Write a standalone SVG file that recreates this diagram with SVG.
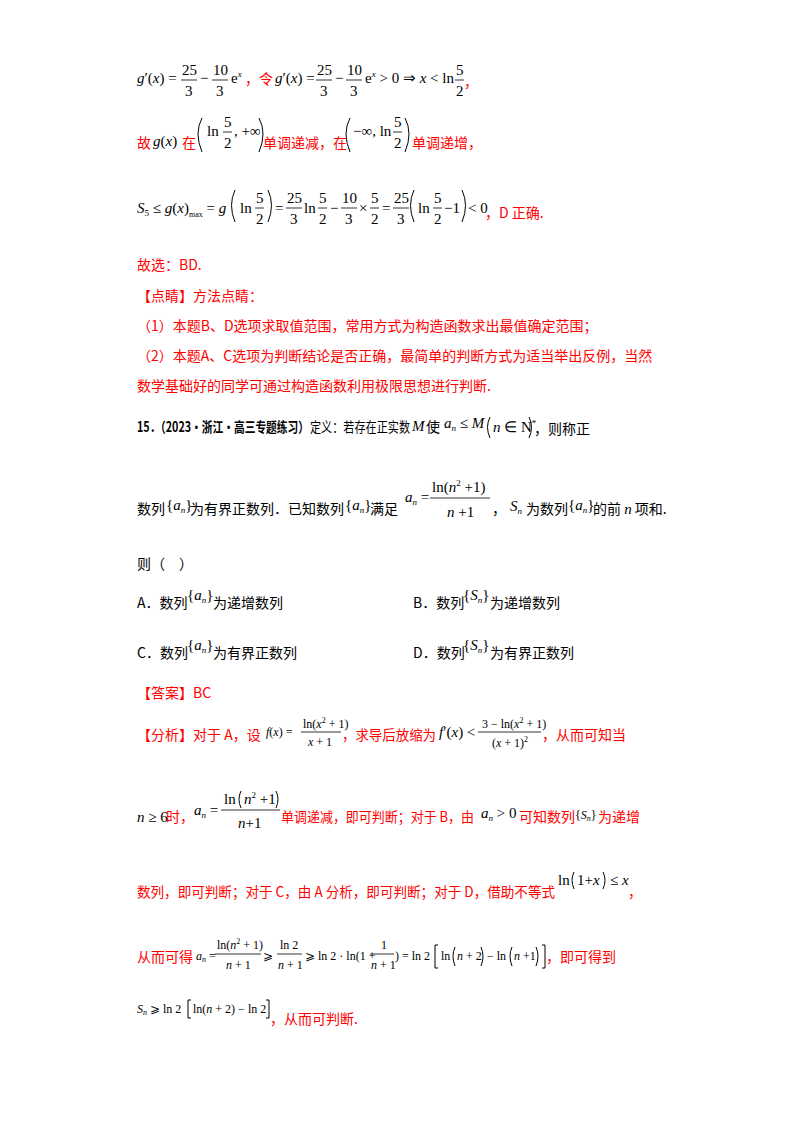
<svg xmlns="http://www.w3.org/2000/svg" width="800" height="1132" viewBox="0 0 800 1132">
<style>
.c{font-family:"Noto Sans CJK SC",sans-serif;font-size:14px;fill:#000}
.r{font-family:"Noto Sans CJK SC",sans-serif;font-size:14px;fill:#f00}
.m{font-family:"Liberation Serif",serif;font-size:15px;fill:#000}
.s{font-family:"Liberation Serif",serif;font-size:12px;fill:#000}
.i{font-style:italic}
.b{font-weight:bold}
line{stroke:#000;stroke-width:0.8}
path{fill:none;stroke:#000;stroke-width:1}
</style>
<rect width="800" height="1132" fill="#fff"/>
<g id="line1">
<text class="m" x="137" y="83"><tspan class="i">g</tspan>′(<tspan class="i">x</tspan>) =</text>
<text class="m" x="182" y="75">25</text><line x1="181" y1="80" x2="197" y2="80"/><text class="m" x="185" y="96">3</text>
<text class="m" x="200" y="83">−</text>
<text class="m" x="213" y="75">10</text><line x1="212" y1="80" x2="228" y2="80"/><text class="m" x="216" y="96">3</text>
<text class="m" x="231" y="83">e<tspan class="i" font-size="9" dy="-6">x</tspan></text>
<text class="r" x="245" y="84">，令</text>
<text class="m" x="275" y="83"><tspan class="i">g</tspan>′(<tspan class="i">x</tspan>) =</text>
<text class="m" x="317" y="75">25</text><line x1="316" y1="80" x2="332" y2="80"/><text class="m" x="320" y="96">3</text>
<text class="m" x="335" y="83">−</text>
<text class="m" x="347" y="75">10</text><line x1="346" y1="80" x2="362" y2="80"/><text class="m" x="350" y="96">3</text>
<text class="m" x="365" y="83">e<tspan class="i" font-size="9" dy="-6">x</tspan><tspan dy="6"> &gt; 0 ⇒ </tspan><tspan class="i">x</tspan> &lt; ln</text>
<text class="m" x="456" y="75">5</text><line x1="455" y1="80" x2="464" y2="80"/><text class="m" x="456" y="96">2</text>
<text class="r" x="464" y="87">，</text>
</g>
<g id="line2">
<text class="r" x="137" y="148">故</text>
<text class="m" x="153" y="146"><tspan class="i">g</tspan>(<tspan class="i">x</tspan>)</text>
<text class="r" x="182" y="148">在</text>
<path d="M202 118 Q194 133 202 152"/>
<text class="m" x="207" y="136">ln</text>
<text class="m" x="224" y="127">5</text><line x1="223" y1="132" x2="232" y2="132"/><text class="m" x="224" y="148">2</text>
<text class="m" x="234" y="136">, +∞</text>
<path d="M259 118 Q267 133 259 152"/>
<text class="r" x="263" y="148">单调递减，在</text>
<path d="M350 118 Q342 133 350 152"/>
<text class="m" x="353" y="136">−∞, ln</text>
<text class="m" x="394" y="127">5</text><line x1="393" y1="132" x2="402" y2="132"/><text class="m" x="394" y="148">2</text>
<path d="M405 118 Q413 133 405 152"/>
<text class="r" x="412" y="148">单调递增，</text>
</g>
<g id="line3">
<text class="m" x="137" y="213"><tspan class="i">S</tspan><tspan font-size="9" dy="3">5</tspan><tspan dy="-3"> ≤ </tspan><tspan class="i">g</tspan>(<tspan class="i">x</tspan>)<tspan font-size="8" dy="4">max</tspan><tspan dy="-4"> = </tspan><tspan class="i">g</tspan></text>
<path d="M235 190 Q228 205 235 222"/>
<text class="m" x="240" y="213">ln</text>
<text class="m" x="256" y="203">5</text><line x1="255" y1="208" x2="264" y2="208"/><text class="m" x="256" y="224">2</text>
<path d="M268 190 Q275 205 268 222"/>
<text class="m" x="275" y="213">=</text>
<text class="m" x="287" y="203">25</text><line x1="286" y1="208" x2="302" y2="208"/><text class="m" x="290" y="224">3</text>
<text class="m" x="304" y="213">ln</text>
<text class="m" x="319" y="203">5</text><line x1="318" y1="208" x2="327" y2="208"/><text class="m" x="319" y="224">2</text>
<text class="m" x="330" y="213">−</text>
<text class="m" x="342" y="203">10</text><line x1="341" y1="208" x2="357" y2="208"/><text class="m" x="345" y="224">3</text>
<text class="m" x="359" y="213">×</text>
<text class="m" x="371" y="203">5</text><line x1="370" y1="208" x2="379" y2="208"/><text class="m" x="371" y="224">2</text>
<text class="m" x="382" y="213">=</text>
<text class="m" x="394" y="203">25</text><line x1="393" y1="208" x2="409" y2="208"/><text class="m" x="397" y="224">3</text>
<path d="M414 190 Q407 205 414 222"/>
<text class="m" x="418" y="213">ln</text>
<text class="m" x="434" y="203">5</text><line x1="433" y1="208" x2="442" y2="208"/><text class="m" x="434" y="224">2</text>
<text class="m" x="444" y="213">−1</text>
<path d="M462 190 Q469 205 462 222"/>
<text class="m" x="468" y="213">&lt; 0</text>
<text class="r" x="485" y="218">，D 正确.</text>
</g>
<g id="text1">
<text class="r" x="137" y="270">故选：BD.</text>
<text class="r" x="137" y="301">【点睛】方法点睛：</text>
<text class="r" x="137" y="331">（1）本题B、D选项求取值范围，常用方式为构造函数求出最值确定范围；</text>
<text class="r" x="137" y="361">（2）本题A、C选项为判断结论是否正确，最简单的判断方式为适当举出反例，当然</text>
<text class="r" x="137" y="391">数学基础好的同学可通过构造函数利用极限思想进行判断.</text>
</g>
<g id="q15">
<text class="c b" x="137" y="432" textLength="172" lengthAdjust="spacingAndGlyphs">15．（2023·浙江·高三专题练习）</text>
<text class="c" x="310" y="432" textLength="100" lengthAdjust="spacingAndGlyphs">定义：若存在正实数</text>
<text class="m i" x="412" y="431">M</text>
<text class="c" x="426" y="432">使</text>
<text class="m" x="444" y="428"><tspan class="i">a</tspan><tspan class="i" font-size="9" dy="3">n</tspan><tspan dy="-3"> ≤ </tspan><tspan class="i">M</tspan></text>
<path d="M490 417 Q485 427 490 438"/>
<text class="m" x="493" y="432"><tspan class="i">n</tspan> ∈ N<tspan font-size="9" dy="-6">*</tspan></text>
<path d="M529 417 Q534 427 529 438"/>
<text class="c" x="534" y="434">，则称正</text>
<text class="c" x="137" y="514">数列</text>
<text class="m" x="166" y="510">{<tspan class="i">a</tspan><tspan class="i" font-size="9" dy="3">n</tspan><tspan dy="-3">}</tspan></text>
<text class="c" x="190" y="514">为有界正数列．已知数列</text>
<text class="m" x="345" y="510">{<tspan class="i">a</tspan><tspan class="i" font-size="9" dy="3">n</tspan><tspan dy="-3">}</tspan></text>
<text class="c" x="370" y="514">满足</text>
<text class="m" x="405" y="502"><tspan class="i">a</tspan><tspan class="i" font-size="9" dy="3">n</tspan><tspan dy="-3"> =</tspan></text>
<text class="m" x="432" y="492">ln(<tspan class="i">n</tspan><tspan font-size="9" dy="-6">2</tspan><tspan dy="6"> +1)</tspan></text>
<line x1="430" y1="498" x2="490" y2="498"/>
<text class="m" x="447" y="517"><tspan class="i">n</tspan> +1</text>
<text class="c" x="492" y="514">，</text>
<text class="m" x="510" y="511"><tspan class="i">S</tspan><tspan class="i" font-size="9" dy="3">n</tspan></text>
<text class="c" x="526" y="514">为数列</text>
<text class="m" x="568" y="510">{<tspan class="i">a</tspan><tspan class="i" font-size="9" dy="3">n</tspan><tspan dy="-3">}</tspan></text>
<text class="c" x="593" y="514">的前 <tspan class="m i">n</tspan> 项和.</text>
<text class="c" x="137" y="569">则（　）</text>
<text class="c" x="137" y="608">A．数列</text>
<text class="m" x="187" y="600">{<tspan class="i">a</tspan><tspan class="i" font-size="9" dy="3">n</tspan><tspan dy="-3">}</tspan></text>
<text class="c" x="213" y="608">为递增数列</text>
<text class="c" x="413" y="608">B．数列</text>
<text class="m" x="463" y="600">{<tspan class="i">S</tspan><tspan class="i" font-size="9" dy="3">n</tspan><tspan dy="-3">}</tspan></text>
<text class="c" x="490" y="608">为递增数列</text>
<text class="c" x="137" y="658">C．数列</text>
<text class="m" x="187" y="650">{<tspan class="i">a</tspan><tspan class="i" font-size="9" dy="3">n</tspan><tspan dy="-3">}</tspan></text>
<text class="c" x="213" y="658">为有界正数列</text>
<text class="c" x="413" y="658">D．数列</text>
<text class="m" x="463" y="650">{<tspan class="i">S</tspan><tspan class="i" font-size="9" dy="3">n</tspan><tspan dy="-3">}</tspan></text>
<text class="c" x="490" y="658">为有界正数列</text>
</g>
<g id="answer">
<text class="r" x="137" y="698">【答案】BC</text>
<text class="r" x="137" y="740">【分析】对于 A，设</text>
<text class="s" x="266" y="736"><tspan class="i">f</tspan>(<tspan class="i">x</tspan>) =</text>
<text class="s" x="303" y="728">ln(<tspan class="i">x</tspan><tspan font-size="8" dy="-5">2</tspan><tspan dy="5"> + 1)</tspan></text>
<line x1="301" y1="732" x2="341" y2="732"/>
<text class="s" x="308" y="746"><tspan class="i">x</tspan> + 1</text>
<text class="r" x="342" y="740" textLength="94" lengthAdjust="spacingAndGlyphs">，求导后放缩为</text>
<text class="m" x="439" y="737"><tspan class="i">f</tspan>′(<tspan class="i">x</tspan>) &lt;</text>
<text class="s" x="482" y="728">3 − ln(<tspan class="i">x</tspan><tspan font-size="8" dy="-5">2</tspan><tspan dy="5"> + 1)</tspan></text>
<line x1="478" y1="732" x2="541" y2="732"/>
<text class="s" x="492" y="747">(<tspan class="i">x</tspan> + 1)<tspan font-size="8" dy="-5">2</tspan></text>
<text class="r" x="542" y="740">，从而可知当</text>
<text class="m" x="137" y="822"><tspan class="i">n</tspan> ≥ 6</text>
<text class="r" x="166" y="822">时，</text>
<text class="m" x="194" y="815"><tspan class="i">a</tspan><tspan class="i" font-size="9" dy="3">n</tspan><tspan dy="-3"> =</tspan></text>
<text class="m" x="224" y="804">ln</text>
<path d="M241 791 Q237 799 241 808"/>
<text class="m" x="244" y="804"><tspan class="i">n</tspan><tspan font-size="9" dy="-6">2</tspan><tspan dy="6"> +1</tspan></text>
<path d="M276 791 Q280 799 276 808"/>
<line x1="221" y1="810" x2="280" y2="810"/>
<text class="m" x="238" y="828"><tspan class="i">n</tspan>+1</text>
<text class="r" x="281" y="822" textLength="193" lengthAdjust="spacingAndGlyphs">单调递减，即可判断；对于 B，由</text>
<text class="m" x="481" y="818"><tspan class="i">a</tspan><tspan class="i" font-size="9" dy="3">n</tspan><tspan dy="-3"> &gt; 0</tspan></text>
<text class="r" x="519" y="822">可知数列</text>
<text class="s" x="575" y="819">{<tspan class="i">S</tspan><tspan class="i" font-size="8" dy="2">n</tspan><tspan dy="-2">}</tspan></text>
<text class="r" x="598" y="822">为递增</text>
<text class="r" x="137" y="897" textLength="418" lengthAdjust="spacingAndGlyphs">数列，即可判断；对于 C，由 A 分析，即可判断；对于 D，借助不等式</text>
<text class="m" x="558" y="885">ln</text>
<path d="M574 872 Q570 880 574 889"/>
<text class="m" x="577" y="885">1+<tspan class="i">x</tspan></text>
<path d="M603 872 Q607 880 603 889"/>
<text class="m" x="610" y="885">≤ <tspan class="i">x</tspan></text>
<text class="r" x="628" y="897">，</text>
<text class="r" x="137" y="962">从而可得</text>
<text class="s" x="196" y="960"><tspan class="i">a</tspan><tspan class="i" font-size="8" dy="2">n</tspan><tspan dy="-2"> =</tspan></text>
<text class="s" x="217" y="949">ln(<tspan class="i">n</tspan><tspan font-size="8" dy="-5">2</tspan><tspan dy="5"> + 1)</tspan></text>
<line x1="215" y1="954" x2="261" y2="954"/>
<text class="s" x="226" y="969"><tspan class="i">n</tspan> + 1</text>
<text class="s" x="263" y="960">⩾</text>
<text class="s" x="280" y="949">ln 2</text>
<line x1="277" y1="954" x2="302" y2="954"/>
<text class="s" x="278" y="969"><tspan class="i">n</tspan> + 1</text>
<text class="s" x="305" y="960">⩾ ln 2 · ln(1 +</text>
<text class="s" x="381" y="949">1</text>
<line x1="370" y1="954" x2="394" y2="954"/>
<text class="s" x="371" y="969"><tspan class="i">n</tspan> + 1</text>
<text class="s" x="395" y="960">) = ln 2</text>
<path d="M438 945 L435 945 L435 968 L438 968"/>
<text class="s" x="441" y="960">ln</text>
<path d="M455 947 Q451 956 455 966"/>
<text class="s" x="457" y="960"><tspan class="i">n</tspan> + 2</text>
<path d="M481 947 Q485 956 481 966"/>
<text class="s" x="487" y="960">− ln</text>
<path d="M512 947 Q508 956 512 966"/>
<text class="s" x="514" y="960"><tspan class="i">n</tspan> +1</text>
<path d="M536 947 Q540 956 536 966"/>
<path d="M542 945 L545 945 L545 968 L542 968"/>
<text class="r" x="546" y="962">，即可得到</text>
<text class="s" x="137" y="1013"><tspan class="i">S</tspan><tspan class="i" font-size="8" dy="2">n</tspan><tspan dy="-2"> ⩾ ln 2</tspan></text>
<path d="M191 1000 L188 1000 L188 1018 L191 1018"/>
<text class="s" x="193" y="1013">ln(<tspan class="i">n</tspan> + 2) − ln 2</text>
<path d="M266 1000 L269 1000 L269 1018 L266 1018"/>
<text class="r" x="270" y="1024">，从而可判断.</text>
</g>
</svg>
